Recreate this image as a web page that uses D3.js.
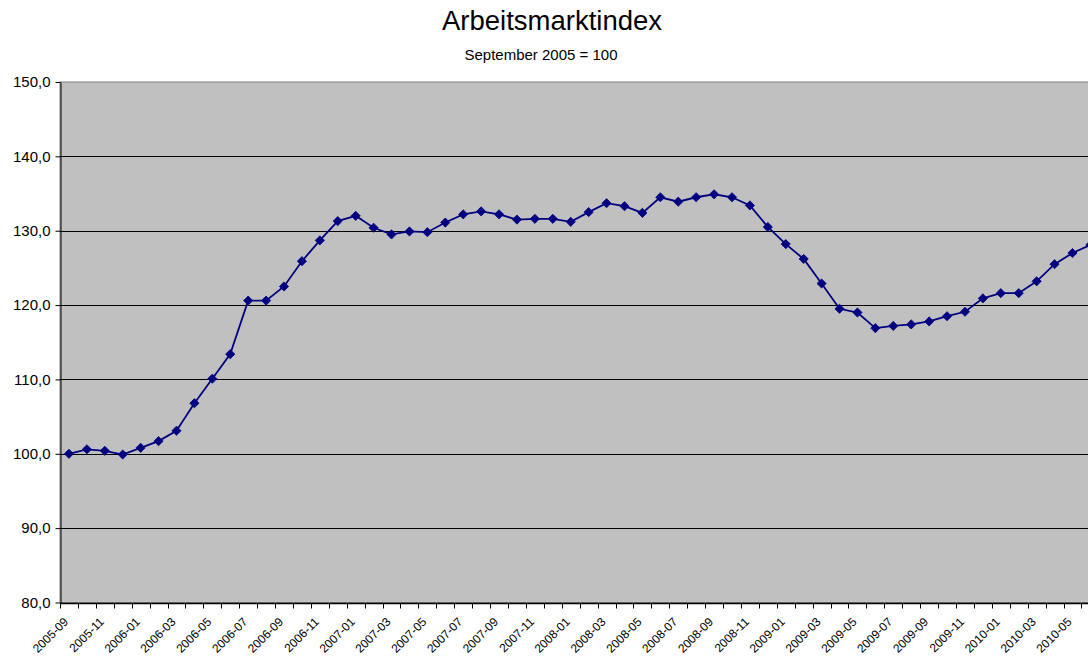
<!DOCTYPE html>
<html>
<head>
<meta charset="utf-8">
<script src="https://cdn.jsdelivr.net/npm/d3@7"></script>
<style>
  html, body { margin: 0; padding: 0; background: #fff; overflow: hidden; }
  svg { display: block; font-family: 'Liberation Sans', Arial, sans-serif; }
</style>
</head>
<body>
<script>
'use strict';

const WIDTH = 1088;
const HEIGHT = 657;

const PLOT_LEFT = 60;
const PLOT_TOP = 82;
const PLOT_BOTTOM = 602.5;
const BAND = 17.92;

const TITLE = 'Arbeitsmarktindex';
const SUBTITLE = 'September 2005 = 100';

// Months, September 2005 to June 2010
const MONTHS = [
    '2005-09', '2005-10', '2005-11', '2005-12',
    '2006-01', '2006-02', '2006-03', '2006-04', '2006-05', '2006-06',
    '2006-07', '2006-08', '2006-09', '2006-10', '2006-11', '2006-12',
    '2007-01', '2007-02', '2007-03', '2007-04', '2007-05', '2007-06',
    '2007-07', '2007-08', '2007-09', '2007-10', '2007-11', '2007-12',
    '2008-01', '2008-02', '2008-03', '2008-04', '2008-05', '2008-06',
    '2008-07', '2008-08', '2008-09', '2008-10', '2008-11', '2008-12',
    '2009-01', '2009-02', '2009-03', '2009-04', '2009-05', '2009-06',
    '2009-07', '2009-08', '2009-09', '2009-10', '2009-11', '2009-12',
    '2010-01', '2010-02', '2010-03', '2010-04', '2010-05', '2010-06'
];

const INDEX_VALUES = [
    100.0, 100.6, 100.4, 99.9,
    100.8, 101.7, 103.1, 106.8, 110.1, 113.4,
    120.6, 120.6, 122.5, 125.9, 128.7, 131.3,
    132.0, 130.4, 129.5, 129.9, 129.8, 131.1,
    132.2, 132.6, 132.2, 131.5, 131.6, 131.6,
    131.2, 132.5, 133.7, 133.3, 132.4, 134.5,
    133.9, 134.5, 134.9, 134.5, 133.4, 130.5,
    128.2, 126.2, 122.9, 119.5, 119.0, 116.9,
    117.2, 117.4, 117.8, 118.5, 119.1, 120.9,
    121.6, 121.6, 123.2, 125.5, 127.0, 128.1
];

const Y_TICKS = [80, 90, 100, 110, 120, 130, 140, 150];

function main() {
    const svg = d3.select('body')
            .append('svg')
            .attr('width', WIDTH)
            .attr('height', HEIGHT);

    const plotRight = PLOT_LEFT + BAND * MONTHS.length;

    const x = d3.scaleBand()
            .domain(MONTHS)
            .range([PLOT_LEFT, plotRight])
            .padding(0);

    const y = d3.scaleLinear()
            .domain([80, 150])
            .range([PLOT_BOTTOM, PLOT_TOP]);

    const fmt = v => d3.format('.1f')(v).replace('.', ',');

    // Titles
    svg.append('text')
            .attr('x', 552)
            .attr('y', 30)
            .attr('text-anchor', 'middle')
            .style('font-size', '27.5px')
            .text(TITLE);

    svg.append('text')
            .attr('x', 541)
            .attr('y', 60)
            .attr('text-anchor', 'middle')
            .style('font-size', '15px')
            .text(SUBTITLE);

    // Plot background
    svg.append('rect')
            .attr('x', PLOT_LEFT)
            .attr('y', PLOT_TOP)
            .attr('width', plotRight - PLOT_LEFT)
            .attr('height', PLOT_BOTTOM - PLOT_TOP)
            .attr('fill', '#C0C0C0')
            .attr('stroke', '#808080')
            .attr('stroke-width', 1);

    // Gridlines
    svg.append('g')
            .selectAll('line')
            .data(Y_TICKS.filter(v => v > 80 && v < 150))
            .join('line')
            .attr('x1', PLOT_LEFT)
            .attr('x2', plotRight)
            .attr('y1', d => Math.round(y(d)) + 0.5)
            .attr('y2', d => Math.round(y(d)) + 0.5)
            .attr('stroke', '#000')
            .attr('stroke-width', 1);

    // Y axis
    const yAxis = svg.append('g')
            .attr('transform', `translate(${PLOT_LEFT + 0.5},0)`)
            .call(d3.axisLeft(y).tickValues(Y_TICKS).tickFormat(fmt).tickSize(5).tickSizeOuter(0));
    yAxis.select('.domain').attr('stroke', '#000');
    yAxis.selectAll('.tick line').attr('stroke', '#000');
    yAxis.selectAll('.tick text')
            .attr('x', -10)
            .attr('fill', '#000')
            .style('font-size', '15px')
            .style('font-family', "'Liberation Sans', Arial, sans-serif");

    // X axis: ticks on category boundaries
    const bottomY = Math.round(PLOT_BOTTOM) + 0.5;
    svg.append('line')
            .attr('x1', PLOT_LEFT)
            .attr('x2', plotRight)
            .attr('y1', bottomY)
            .attr('y2', bottomY)
            .attr('stroke', '#000')
            .attr('stroke-width', 1.5);

    svg.append('g')
            .selectAll('line')
            .data(MONTHS)
            .join('line')
            .attr('x1', d => Math.round(x(d)) + 0.5)
            .attr('x2', d => Math.round(x(d)) + 0.5)
            .attr('y1', bottomY)
            .attr('y2', bottomY + 5)
            .attr('stroke', '#000');

    svg.append('g')
            .selectAll('text')
            .data(MONTHS.filter((m, i) => i % 2 === 0))
            .join('text')
            .attr('text-anchor', 'end')
            .attr('transform', d => `translate(${x(d) + x.bandwidth() / 2 - 3},${PLOT_BOTTOM + 17}) rotate(-45)`)
            .attr('dy', '0.35em')
            .style('font-size', '12px')
            .text(d => d);

    // Line
    const points = MONTHS.map((m, i) => [x(m) + x.bandwidth() / 2, y(INDEX_VALUES[i])]);

    svg.append('path')
            .datum(points)
            .attr('fill', 'none')
            .attr('stroke', '#000080')
            .attr('stroke-width', 1.8)
            .attr('d', d3.line());

    // Diamond markers
    svg.append('g')
            .selectAll('path')
            .data(points)
            .join('path')
            .attr('transform', d => `translate(${d[0]},${d[1]})`)
            .attr('d', 'M0,-4.6L4.6,0L0,4.6L-4.6,0Z')
            .attr('fill', '#000080')
            .attr('stroke', '#000080')
            .attr('stroke-width', 0.8);
}

document.addEventListener('DOMContentLoaded', function() {
    main();
});
</script>
</body>
</html>
